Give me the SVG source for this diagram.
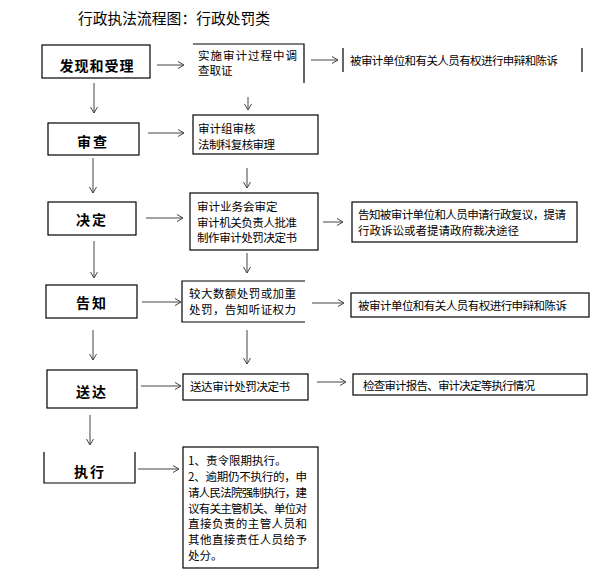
<svg xmlns="http://www.w3.org/2000/svg" width="600" height="586" viewBox="0 0 600 586">
<defs>
<marker id="ah" markerUnits="userSpaceOnUse" markerWidth="10" markerHeight="10" refX="8" refY="5" orient="auto">
<path d="M2,1.5 L8,5 L2,8.5" fill="none" stroke="#444" stroke-width="1"/>
</marker>
<style>
.box{fill:#fff;stroke:#000;stroke-width:1.2}
.edge{fill:none;stroke:#000;stroke-width:1.2}
.lbl{font-family:"Noto Sans CJK SC","Noto Sans CJK JP",sans-serif;font-size:14px;font-weight:bold;fill:#000;text-anchor:middle}
.t{font-family:"Noto Sans CJK SC","Noto Sans CJK JP",sans-serif;font-size:11.5px;fill:#000}
.title{font-family:"Noto Sans CJK SC","Noto Sans CJK JP",sans-serif;font-size:15px;fill:#000}
.c line{stroke:#444;stroke-width:1;marker-end:url(#ah)}
</style>
</defs>
<rect width="600" height="586" fill="#fff"/>
<text class="title" x="78" y="24" textLength="192" lengthAdjust="spacingAndGlyphs">行政执法流程图：行政处罚类</text>

<g id="n-faxian">
<rect class="box" x="42" y="45" width="108" height="33"/>
<text class="lbl" x="97" y="71" letter-spacing="1">发现和受理</text>
</g>
<g id="n-shencha">
<rect class="box" x="48" y="123" width="91" height="32"/>
<text class="lbl" x="93" y="147" letter-spacing="2">审查</text>
</g>
<g id="n-jueding">
<rect class="box" x="48" y="202" width="88" height="33"/>
<text class="lbl" x="92" y="225" letter-spacing="2">决定</text>
</g>
<g id="n-gaozhi">
<rect class="box" x="46" y="285" width="91" height="33"/>
<text class="lbl" x="92" y="308" letter-spacing="2">告知</text>
</g>
<g id="n-songda">
<rect class="box" x="47" y="370" width="90" height="38"/>
<text class="lbl" x="92" y="397" letter-spacing="2">送达</text>
</g>
<g id="n-zhixing">
<path class="edge" d="M44,452 V483 H135 V452"/>
<text class="lbl" x="90" y="477" letter-spacing="2">执行</text>
</g>

<g id="m1">
<path class="edge" d="M193,44 H304 V83"/>
<text class="t" x="198" y="59.5" textLength="99">实施审计过程中调</text>
<text class="t" x="198" y="74.5">查取证</text>
</g>
<g id="m2">
<rect class="box" x="193" y="115" width="125" height="39"/>
<text class="t" x="198" y="133">审计组审核</text>
<text class="t" x="198" y="149" textLength="77">法制科复核审理</text>
</g>
<g id="m3">
<rect class="box" x="190" y="193" width="128" height="57"/>
<text class="t" x="197" y="211">审计业务会审定</text>
<text class="t" x="197" y="227" textLength="100">审计机关负责人批准</text>
<text class="t" x="197" y="242" textLength="100">制作审计处罚决定书</text>
</g>
<g id="m4">
<path class="edge" d="M305,281 H182 V322 H305"/>
<text class="t" x="189" y="298" textLength="107">较大数额处罚或加重</text>
<text class="t" x="189" y="314" textLength="107">处罚，告知听证权力</text>
</g>
<g id="m5">
<rect class="box" x="183" y="374" width="125" height="26"/>
<text class="t" x="190" y="391" textLength="100">送达审计处罚决定书</text>
</g>
<g id="m6">
<rect class="box" x="183" y="447" width="135" height="121"/>
<text class="t" x="188" y="464.5">1、责令限期执行。</text>
<text class="t" x="188" y="480.5" textLength="119">2、逾期仍不执行的，申</text>
<text class="t" x="188" y="496.5" textLength="119">请人民法院强制执行，建</text>
<text class="t" x="188" y="512.5" textLength="119">议有关主管机关、单位对</text>
<text class="t" x="188" y="527.5" textLength="119">直接负责的主管人员和</text>
<text class="t" x="188" y="543.5" textLength="119">其他直接责任人员给予</text>
<text class="t" x="188" y="559.5">处分。</text>
</g>

<g id="r1">
<path class="edge" d="M343,48 V72 M582,48 V72"/>
<text class="t" x="350" y="64.5" textLength="208">被审计单位和有关人员有权进行申辩和陈诉</text>
</g>
<g id="r3">
<rect class="box" x="352" y="202" width="225" height="40"/>
<text class="t" x="358" y="219" textLength="208">告知被审计单位和人员申请行政复议，提请</text>
<text class="t" x="358" y="235">行政诉讼或者提请政府裁决途径</text>
</g>
<g id="r4">
<rect class="box" x="351" y="293" width="238" height="24"/>
<text class="t" x="358" y="310" textLength="209">被审计单位和有关人员有权进行申辩和陈诉</text>
</g>
<g id="r5">
<rect class="box" x="353" y="374" width="234" height="21"/>
<text class="t" x="363" y="390" textLength="172">检查审计报告、审计决定等执行情况</text>
</g>

<g id="connectors" class="c">
<line x1="94" y1="83" x2="94" y2="113"/>
<line x1="93" y1="158" x2="93" y2="193"/>
<line x1="94" y1="241" x2="94" y2="278"/>
<line x1="93" y1="330" x2="93" y2="360"/>
<line x1="90" y1="415" x2="90" y2="445"/>

<line x1="157" y1="65" x2="184" y2="65"/>
<line x1="148" y1="133" x2="184" y2="133"/>
<line x1="146" y1="218" x2="183" y2="218"/>
<line x1="142" y1="302" x2="181" y2="302"/>
<line x1="141" y1="386" x2="181" y2="386"/>
<line x1="138" y1="469" x2="179" y2="469"/>

<line x1="248" y1="97" x2="248" y2="110"/>
<line x1="247" y1="168" x2="247" y2="188"/>
<line x1="247" y1="253" x2="247" y2="273"/>
<line x1="247" y1="330" x2="247" y2="364"/>

<line x1="311" y1="60" x2="338" y2="60"/>
<line x1="323" y1="222" x2="343" y2="222"/>
<line x1="312" y1="303" x2="344" y2="303"/>
<line x1="317" y1="382" x2="346" y2="382"/>
</g>
</svg>
